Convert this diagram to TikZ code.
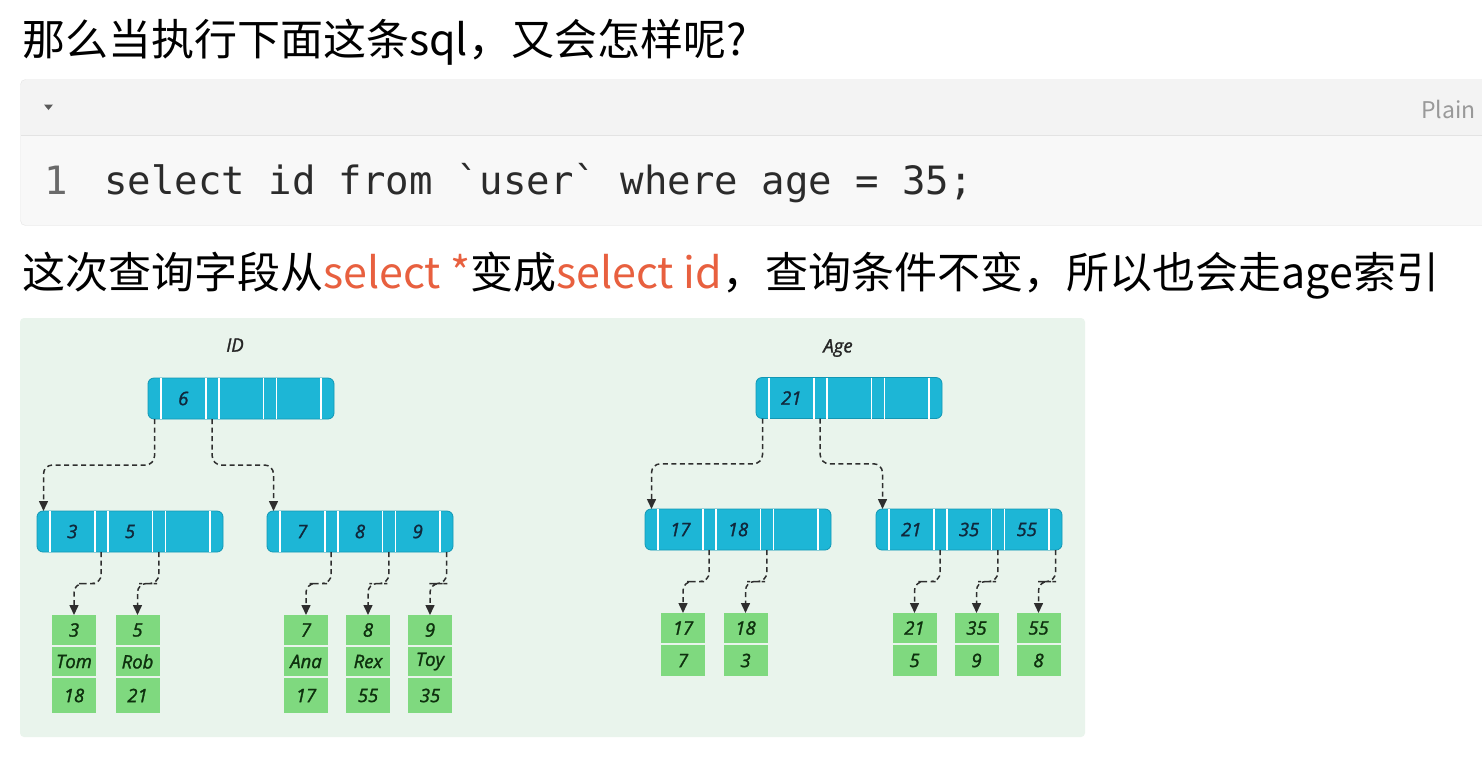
\documentclass[tikz,border=0pt]{standalone}
\usepackage{fontspec}
\usepackage{xcolor}
\usetikzlibrary{arrows.meta,positioning,calc}
\newfontfamily\cjk{Noto Sans CJK SC}
\newfontfamily\treefont[FakeBold=1.5]{Open Sans}
\setmonofont{DejaVu Sans Mono}
\definecolor{panelGreen}{HTML}{E9F4EC}
\definecolor{keyCyan}{HTML}{1DB6D6}
\definecolor{keyEdge}{HTML}{1297B4}
\definecolor{leafGreen}{HTML}{7FD97F}
\definecolor{keyInk}{HTML}{10283C}
\definecolor{leafInk}{HTML}{0E300E}
\definecolor{linkInk}{HTML}{2E2E2E}
\definecolor{codeHead}{HTML}{F3F3F3}
\definecolor{codeBody}{HTML}{F8F8F8}
\definecolor{codeEdge}{HTML}{E3E3E3}
\definecolor{codeInk}{HTML}{2B2B2B}
\definecolor{lineNo}{HTML}{6A6A6A}
\definecolor{hiRed}{HTML}{E8603F}

% one B+ tree page: name, centre, three keys
\newcommand{\bpnode}[5]{%
  \node[keynode] (#1) at #2 {};
  \foreach \dx in {13,57.7,70.7,115.3,128.3,173}
    \draw[keysep] ($(#1.north west)+(\dx,0)$) -- ($(#1.south west)+(\dx,0)$);
  \node[keytext] (#1-k1) at ($(#1.west)+(35.3,0)$) {#3};
  \node[keytext] (#1-k2) at ($(#1.west)+(93,0)$) {#4};
  \node[keytext] (#1-k3) at ($(#1.west)+(150.7,0)$) {#5};
  \coordinate (#1-t0) at ($(#1.north west)+(6.5,0)$);
  \coordinate (#1-p0) at ($(#1.south west)+(6.5,0)$);
  \coordinate (#1-p1) at ($(#1.south west)+(64.2,0)$);
  \coordinate (#1-p2) at ($(#1.south west)+(121.8,0)$);
  \coordinate (#1-p3) at ($(#1.south west)+(179.5,0)$);
}
% leaf of the id index: name, x, id, name, age
\newcommand{\idleaf}[5]{%
  \node[leafbox, minimum height=30pt] (#1-1) at (#2,630) {#3};
  \node[leafbox, minimum height=29pt, below=2pt of #1-1] (#1-2) {#4};
  \node[leafbox, minimum height=35pt, below=2pt of #1-2] (#1-3) {#5};
}
% leaf of the age index: name, x, age, id
\newcommand{\ageleaf}[4]{%
  \node[leafbox, minimum height=30pt] (#1-1) at (#2,628) {#3};
  \node[leafbox, minimum height=31pt, below=2pt of #1-1] (#1-2) {#4};
}

\begin{document}
\begin{tikzpicture}[x=1pt, y=-1pt,
    keynode/.style={rectangle, rounded corners=6pt, fill=keyCyan, draw=keyEdge, line width=0.8pt,
      minimum width=186pt, minimum height=41pt, inner sep=0pt, outer sep=0pt},
    keysep/.style={draw=white, line width=1.6pt},
    keytext/.style={font=\treefont\itshape\fontsize{18.5}{22}\selectfont, text=keyInk, inner sep=0pt},
    leafbox/.style={rectangle, fill=leafGreen, minimum width=44pt, inner sep=0pt, outer sep=0pt,
      font=\treefont\itshape\fontsize{18.5}{22}\selectfont, text=leafInk},
    treelabel/.style={font=\treefont\itshape\fontsize{18.5}{22}\selectfont, text=black!85},
    link/.style={draw=linkInk, line width=1.5pt, dash pattern=on 5pt off 3.5pt, rounded corners=9pt,
      -{Triangle[length=10pt, width=9pt]}},
    cjktext/.style={anchor=base west, inner sep=0pt, font=\cjk\fontsize{43}{51}\selectfont},
    codetext/.style={anchor=base west, inner sep=0pt, font=\ttfamily\fontsize{39}{46}\selectfont}]
  \useasboundingbox[fill=white] (0,0) rectangle (1482,756);

  % heading and code block
  \node[cjktext] (title) at (22,55) {那么当执行下面这条sql，又会怎样呢?};
  \begin{scope}
    \clip (0,0) rectangle (1482,756);
    \fill[codeBody, rounded corners=5pt] (20.5,79.5) rectangle (1510,225.5);
    \fill[codeHead] (21,135) [rounded corners=4.5pt] -- (21,80) [sharp corners] -- (1510,80) -- (1510,135) -- cycle;
    \draw[codeEdge] (21,135) -- (1510,135);
    \draw[codeEdge, rounded corners=5pt] (20.5,79.5) rectangle (1510,225.5);
  \end{scope}
  \fill[black!65] (44,104.5) -- (53,104.5) -- (48.5,110) -- cycle;
  \node[anchor=base east, inner sep=0pt, font=\cjk\fontsize{23}{28}\selectfont, text=black!40] (lang) at (1476,118) {Plain};
  \node[codetext, text=lineNo] (lineno) at (44,194) {1};
  \node[codetext, text=codeInk] (code) at (104,194) {select id from `user` where age = 35;};
  \node[cjktext] (note) at (22,288) {这次查询字段从\textcolor{hiRed}{select *}变成\textcolor{hiRed}{select id}，查询条件不变，所以也会走age索引};

  % diagram panel
  \fill[panelGreen, rounded corners=4pt] (20,318) rectangle (1085,737);
  \node[treelabel] (idlabel) at (235,345) {ID};
  \node[treelabel] (agelabel) at (838,348) {Age};

  % id index
  \bpnode{idroot}{(241,398.5)}{6}{}{}
  \bpnode{idleft}{(130,531.5)}{3}{5}{}
  \bpnode{idright}{(360,531.5)}{7}{8}{9}
  \idleaf{idlf3}{74}{3}{Tom}{18}
  \idleaf{idlf5}{137.5}{5}{Rob}{21}
  \idleaf{idlf7}{306}{7}{Ana}{17}
  \idleaf{idlf8}{368}{8}{Rex}{55}
  \idleaf{idlf9}{430}{9}{Toy}{35}

  % age index
  \bpnode{agroot}{(849,398)}{21}{}{}
  \bpnode{agleft}{(738,529.5)}{17}{18}{}
  \bpnode{agright}{(969,529.5)}{21}{35}{55}
  \ageleaf{aglf17}{683}{17}{7}
  \ageleaf{aglf18}{745.5}{18}{3}
  \ageleaf{aglf21}{914.5}{21}{5}
  \ageleaf{aglf35}{976.5}{35}{9}
  \ageleaf{aglf55}{1038.5}{55}{8}

  % pointers
  \foreach \a/\b in {idroot-p0/idleft-t0, idroot-p1/idright-t0,
      idleft-p1/idlf3-1.north, idleft-p2/idlf5-1.north,
      idright-p1/idlf7-1.north, idright-p2/idlf8-1.north, idright-p3/idlf9-1.north,
      agroot-p0/agleft-t0, agroot-p1/agright-t0,
      agleft-p1/aglf17-1.north, agleft-p2/aglf18-1.north,
      agright-p1/aglf21-1.north, agright-p2/aglf35-1.north, agright-p3/aglf55-1.north}
    \draw[link] (\a) |- ($(\a)!.5!(\b)$) -| (\b);
\end{tikzpicture}
\end{document}
